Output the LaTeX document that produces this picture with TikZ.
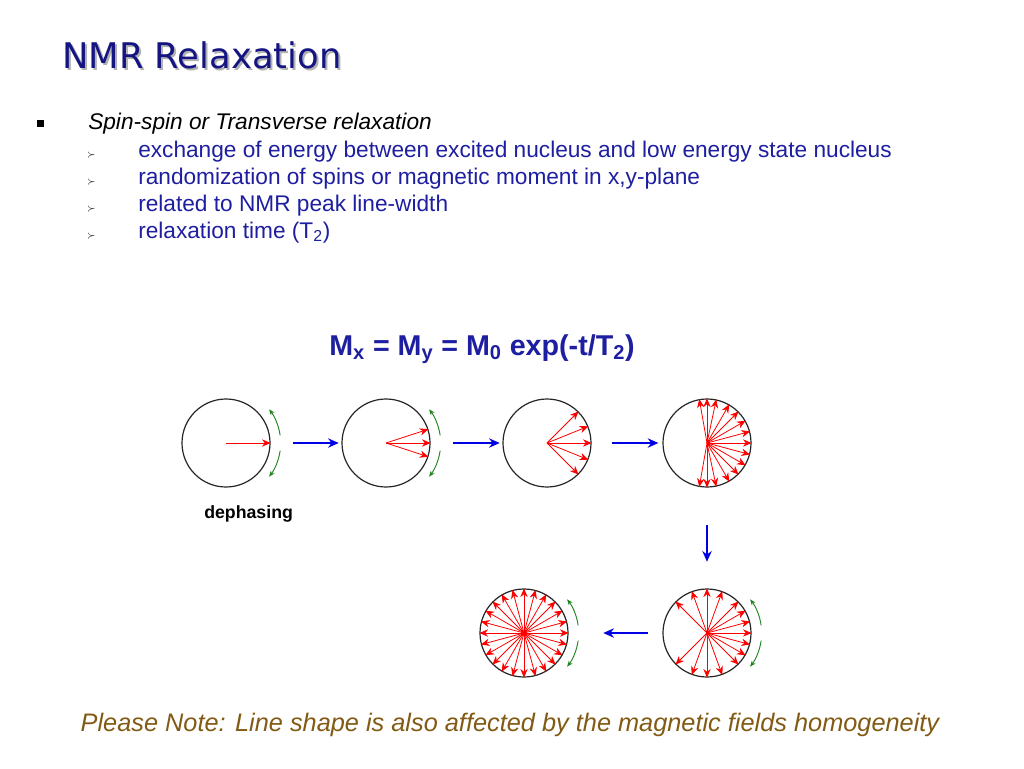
\documentclass[tikz,border=0pt]{standalone}
\usepackage{fontspec}
\setmainfont{Liberation Sans}
\newfontfamily\titlefont{DejaVu Sans}
\usetikzlibrary{arrows.meta,calc}
\definecolor{navy}{RGB}{20,20,130}
\definecolor{txtblue}{RGB}{30,30,160}
\definecolor{brownish}{RGB}{130,90,20}
\definecolor{dgreen}{RGB}{30,130,30}
\tikzset{
  ring/.style={draw=black!85,line width=0.9pt,circle,minimum size=66pt,inner sep=0pt},
  spin/.style={red,line width=0.6pt,-{Stealth[length=6.5pt,width=5.5pt]}},
  flow/.style={blue!90!black,line width=1.6pt,-{Stealth[length=8pt,width=7pt]}},
  rot/.style={dgreen,line width=0.7pt,-{Stealth[length=4.5pt,width=3.5pt]}},
  txt/.style={anchor=base west,inner sep=0pt,font=\fontsize{17}{20}\selectfont,text=txtblue}
}
\begin{document}
\begin{tikzpicture}[x=0.75pt,y=-0.75pt]
\useasboundingbox (0,0) rectangle (1024,768);
\node[anchor=base west,inner sep=0pt,text=gray!60,font=\titlefont\fontsize{26.5}{30}\selectfont] at (64,70) {NMR Relaxation};
\node (title) [anchor=base west,inner sep=0pt,text=navy,font=\titlefont\fontsize{26.5}{30}\selectfont] at (62,68) {NMR Relaxation};
\node (b0) [anchor=base west,inner sep=0pt] at (37,127) {\rule{5pt}{5pt}};
\node (t0) [txt,text=black,font=\itshape\fontsize{17}{20}\selectfont] at (88,129) {Spin-spin or Transverse relaxation};
\foreach \y/\s [count=\i] in {157/{exchange of energy between excited nucleus and low energy state nucleus},184/{randomization of spins or magnetic moment in x,y-plane},211/{related to NMR peak line-width},238/{relaxation time (T\textsubscript{2})}}{
  \node (a\i) [anchor=base west,inner sep=0pt,text=black,font=\fontsize{7}{8}\selectfont] at (87,\y) {$\succ$};
  \node (l\i) [txt] at (138,\y) {\s};
}
\node (eq) [anchor=base,inner sep=0pt,text=txtblue,font=\bfseries\fontsize{21.5}{24}\selectfont] at (482,355) {M\textsubscript{x} = M\textsubscript{y} = M\textsubscript{0} exp(-t/T\textsubscript{2})};
% circles
\node (c1) [ring] at (226,443) {};
\node (c2) [ring] at (386,443) {};
\node (c3) [ring] at (547,443) {};
\node (c4) [ring] at (707,443) {};
\node (c5) [ring] at (707,633) {};
\node (c6) [ring] at (524,633) {};
% spins
\draw[spin] (c1.center) -- (c1.east);
\foreach \a in {-18,0,18} \draw[spin] (c2.center) -- (c2.\a);
\foreach \a in {-45,-22,0,22,45} \draw[spin] (c3.center) -- (c3.\a);
\foreach \a in {-100,-90,-78,-60,-45,-30,-15,0,15,30,45,60,78,90,100} \draw[spin] (c4.center) -- (c4.\a);
\foreach \a in {-135,-110,-90,-70,-45,-30,-15,0,15,30,45,70,90,110,135} \draw[spin] (c5.center) -- (c5.\a);
\foreach \a in {0,15,...,345} \draw[spin] (c6.center) -- (c6.\a);
% rotation arrows
\foreach \c in {c1,c2,c5,c6}{
  \draw[rot] ($(\c.center)+(8:41pt)$) arc[start angle=8,end angle=38,radius=41pt];
  \draw[rot] ($(\c.center)+(-8:41pt)$) arc[start angle=-8,end angle=-38,radius=41pt];
}
% flow arrows
\draw[flow] ([xshift=17pt]c1.east) -- ([xshift=-2pt]c2.west);
\draw[flow] ([xshift=17pt]c2.east) -- ([xshift=-2pt]c3.west);
\draw[flow] ([xshift=15pt]c3.east) -- ([xshift=-3pt]c4.west);
\draw[flow] ([yshift=-28pt]c4.south) -- ([yshift=20pt]c5.north);
\draw[flow] ([xshift=-11pt]c5.west) -- ([xshift=26pt]c6.east);
\node (deph) [anchor=base west,inner sep=0pt,font=\bfseries\fontsize{13.3}{15}\selectfont] at (204,518) {dephasing};
\node (note) [anchor=base,inner sep=0pt,text=brownish,font=\itshape\fontsize{19}{22}\selectfont] at (510,731) {Please Note: Line shape is also affected by the magnetic fields homogeneity};
\end{tikzpicture}
\end{document}
